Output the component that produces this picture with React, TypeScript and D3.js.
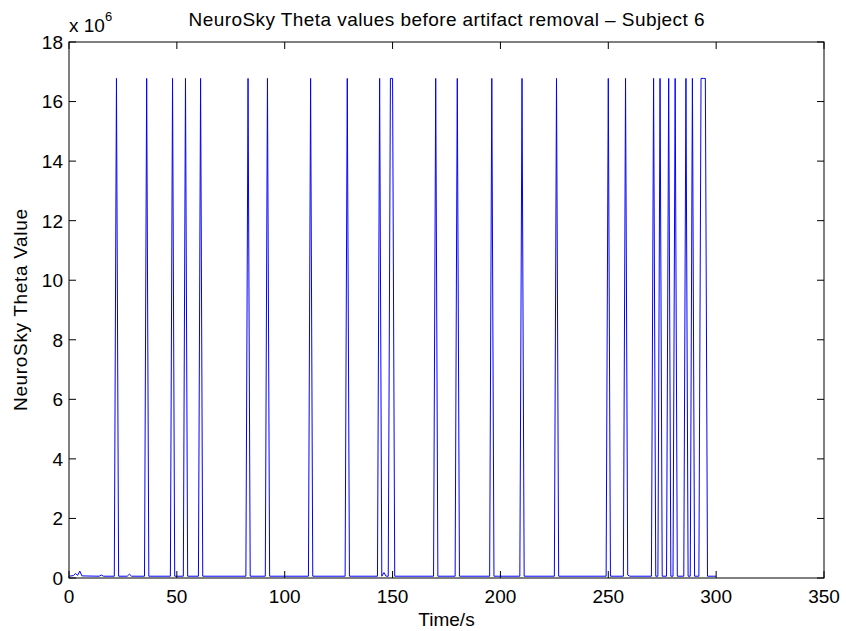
import React from "react";
import * as d3 from "d3";

const SPIKE = 16777216;
const BASE = 60000;

const timeS: number[] = [
  0, 2, 3, 4, 5, 6, 14, 15, 16, 21, 22, 23, 27, 28, 29, 35, 36, 37, 47, 48, 49, 53, 54, 55, 60, 61, 62,
  82, 83, 84, 91, 92, 93, 111, 112, 113, 128, 129, 130, 143, 144, 145, 146, 147, 148, 149, 150, 151,
  169, 170, 171, 179, 180, 181, 195, 196, 197, 209, 210, 211, 225, 226, 227, 249, 250, 251,
  257, 258, 259, 260, 270, 271, 272, 273, 274, 275, 277, 278, 279, 280, 281, 282, 285, 286, 287,
  288, 289, 290, 292, 293, 294, 295, 296, 300,
];
const thetaValues: number[] = [
  BASE, 80000, 150000, 90000, 230000, 70000, BASE, 100000, BASE, BASE, SPIKE, BASE, BASE, 130000, BASE,
  BASE, SPIKE, BASE, BASE, SPIKE, BASE, BASE, SPIKE, BASE, BASE, SPIKE, BASE,
  BASE, SPIKE, BASE, BASE, SPIKE, BASE, BASE, SPIKE, BASE, BASE, SPIKE, BASE,
  BASE, SPIKE, BASE, 180000, BASE, BASE, SPIKE, SPIKE, BASE,
  BASE, SPIKE, BASE, BASE, SPIKE, BASE, BASE, SPIKE, BASE, BASE, SPIKE, BASE, BASE, SPIKE, BASE,
  BASE, SPIKE, BASE, BASE, SPIKE, 100000, BASE, BASE, SPIKE, BASE, BASE, SPIKE, BASE,
  BASE, SPIKE, BASE, BASE, SPIKE, BASE, BASE, SPIKE, BASE, BASE, SPIKE, BASE,
  BASE, SPIKE, SPIKE, SPIKE, BASE, BASE,
];

const xTicks = [0, 50, 100, 150, 200, 250, 300, 350];
const yTicks = [0, 2, 4, 6, 8, 10, 12, 14, 16, 18];

const W = 846;
const H = 631;
const M = { left: 69, right: 824, top: 42, bottom: 578 };
const FONT = "'Liberation Sans', Arial, Helvetica, sans-serif";

export default function App() {
  const x = d3.scaleLinear().domain([0, 350]).range([M.left, M.right]);
  const y = d3.scaleLinear().domain([0, 18e6]).range([M.bottom, M.top]);
  const pts = timeS.map((t, i) => [t, thetaValues[i]] as [number, number]);
  const line = d3
    .line<[number, number]>()
    .x((d) => x(d[0]))
    .y((d) => y(d[1]));
  const tl = 7;
  const fs = 19;
  const cx = (M.left + M.right) / 2;
  return (
    <svg
      width={W}
      height={H}
      style={{ position: "absolute", left: 0, top: 0, background: "#fff" }}
      fontFamily={FONT}
    >
      <rect x={0} y={0} width={W} height={H} fill="#fff" />
      <path d={line(pts) || ""} fill="none" stroke="#0000ff" strokeWidth={1} />
      <rect
        x={M.left}
        y={M.top}
        width={M.right - M.left}
        height={M.bottom - M.top}
        fill="none"
        stroke="#000"
        strokeWidth={1}
      />
      {xTicks.map((t) => (
        <g key={"x" + t}>
          <line x1={x(t)} x2={x(t)} y1={M.bottom} y2={M.bottom - tl} stroke="#000" />
          <line x1={x(t)} x2={x(t)} y1={M.top} y2={M.top + tl} stroke="#000" />
          <text x={x(t)} y={603} textAnchor="middle" fontSize={fs} fill="#000">
            {t}
          </text>
        </g>
      ))}
      {yTicks.map((t) => (
        <g key={"y" + t}>
          <line x1={M.left} x2={M.left + tl} y1={y(t * 1e6)} y2={y(t * 1e6)} stroke="#000" />
          <line x1={M.right} x2={M.right - tl} y1={y(t * 1e6)} y2={y(t * 1e6)} stroke="#000" />
          <text
            x={63}
            y={y(t * 1e6)}
            dy="0.36em"
            textAnchor="end"
            fontSize={fs}
            fill="#000"
          >
            {t}
          </text>
        </g>
      ))}
      <text x={69} y={32} fontSize={fs} fill="#000">
        x 10
        <tspan dy={-11} fontSize={13}>
          6
        </tspan>
      </text>
      <text
        x={cx}
        y={26}
        textAnchor="middle"
        fontSize={fs}
        fill="#000"
        textLength={516}
        lengthAdjust="spacing"
      >
        NeuroSky Theta values before artifact removal – Subject 6
      </text>
      <text x={cx} y={626} textAnchor="middle" fontSize={fs} fill="#000">
        Time/s
      </text>
      <text
        transform={`translate(27, ${(M.top + M.bottom) / 2}) rotate(-90)`}
        textAnchor="middle"
        fontSize={fs}
        fill="#000"
        textLength={202}
        lengthAdjust="spacing"
      >
        NeuroSky Theta Value
      </text>
    </svg>
  );
}
